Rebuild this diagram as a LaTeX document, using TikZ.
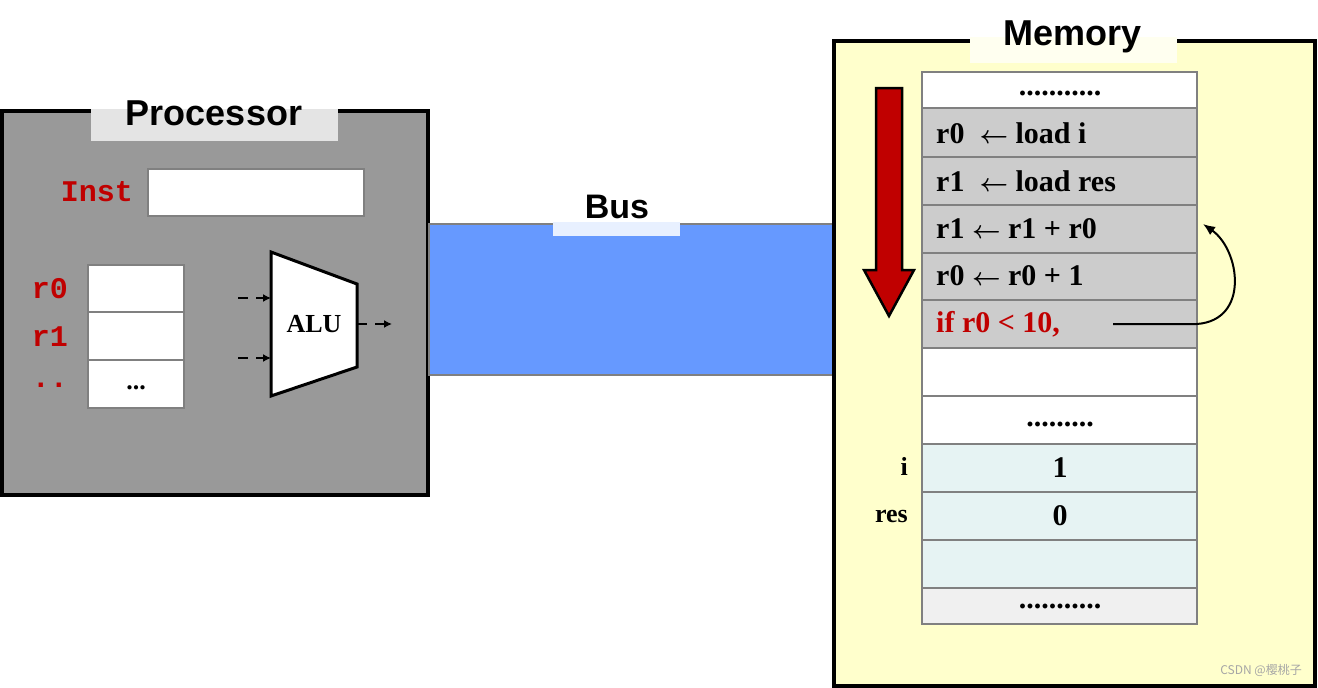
\documentclass[tikz,border=0pt]{standalone}
\usepackage{amsmath}
\usepackage{fontspec}
\setmainfont{Liberation Serif}
\newfontfamily\hvf{Liberation Sans}
\newfontfamily\crf{Liberation Mono}
\newfontfamily\cjkf{Noto Sans CJK SC}
\usetikzlibrary{arrows.meta}
\definecolor{dred}{HTML}{C00000}
\definecolor{pgray}{HTML}{999999}
\definecolor{lgray}{HTML}{E4E4E4}
\definecolor{bus}{HTML}{6699FF}
\definecolor{memy}{HTML}{FFFFCC}
\definecolor{rowg}{HTML}{CCCCCC}
\definecolor{rowb}{HTML}{E6F3F3}
\begin{document}
\begin{tikzpicture}[x=1pt,y=-1pt,
  title/.style={font=\hvf\bfseries\fontsize{36}{36}\selectfont,inner sep=0pt},
  reg/.style={draw=gray,line width=1.5pt,fill=white},
  row/.style={draw=gray,line width=1.5pt},
  mt/.style={font=\bfseries\fontsize{30}{30}\selectfont,inner sep=0pt,anchor=west},
  rl/.style={font=\crf\bfseries\fontsize{30}{30}\selectfont,text=dred,inner sep=0pt},
  arr/.style={-{Latex[length=8pt,width=8pt]},line width=1.5pt}]
\useasboundingbox (0,0) rectangle (1318,688);
% Processor
\draw[fill=pgray,line width=4pt] (2,111) rectangle (428,495);
\fill[lgray] (91,109) rectangle (338,141);
\node[title] (ptitle) at (214,113) {Processor};
\node[rl,anchor=east] (inst) at (133,192) {Inst};
\draw[reg] (148,169) rectangle (364,216);
\draw[reg] (88,265) rectangle (184,312);
\draw[reg] (88,312) rectangle (184,360);
\draw[reg] (88,360) rectangle (184,408);
\node[font=\bfseries\fontsize{26}{26}\selectfont] (dots) at (136,388) {...};
\node[rl] (r0) at (50,289) {r0};
\node[rl] (r1) at (50,337) {r1};
\node[rl] (rd) at (50,385) {..};
\draw[fill=white,line width=3pt] (271,252) -- (357,284) -- (357,367) -- (271,396) -- cycle;
\node[font=\bfseries\fontsize{26}{26}\selectfont,inner sep=0pt] (alu) at (314,324) {ALU};
\coordinate (a1s) at (238,298); \coordinate (a1e) at (271,298);
\coordinate (a2s) at (238,358); \coordinate (a2e) at (271,358);
\coordinate (aos) at (357,324); \coordinate (aoe) at (392,324);
\draw[arr,dash pattern=on 10pt off 8pt] (a1s) -- (a1e);
\draw[arr,dash pattern=on 10pt off 8pt] (a2s) -- (a2e);
\draw[arr,dash pattern=on 10pt off 8pt] (aos) -- (aoe);
% Bus
\draw[fill=bus,draw=gray,line width=2pt] (429,224) rectangle (833,375);
\fill[white!85!bus] (553,222) rectangle (680,236);
\node[title,font=\hvf\bfseries\fontsize{34}{34}\selectfont] (bust) at (617,207) {Bus};
% Memory
\draw[fill=memy,line width=4pt] (834,41) rectangle (1315,686);
\fill[white!70!memy] (970,37) rectangle (1177,63);
\node[title] (mtitle) at (1073,37) {Memory};
\draw[row,fill=white] (922,72) rectangle (1197,108);
\foreach \a/\b in {108/157,157/205,205/253,253/300,300/348} \draw[row,fill=rowg] (922,\a) rectangle (1197,\b);
\foreach \a/\b in {348/396,396/444} \draw[row,fill=white] (922,\a) rectangle (1197,\b);
\foreach \a/\b in {444/492,492/540,540/588} \draw[row,fill=rowb] (922,\a) rectangle (1197,\b);
\draw[row,fill=black!6] (922,588) rectangle (1197,624);
\node[mt,anchor=center] (d1) at (1060,93) {...........};
\node[mt] (m1) at (936,133) {r0\ \ $\boldsymbol{\leftarrow}$ load i};
\node[mt] (m2) at (936,181) {r1\ \ $\boldsymbol{\leftarrow}$ load res};
\node[mt] (m3) at (936,229) {r1 $\boldsymbol{\leftarrow}$ r1 + r0};
\node[mt] (m4) at (936,276) {r0 $\boldsymbol{\leftarrow}$ r0 + 1};
\node[mt,text=dred] (m5) at (936,324) {if r0 < 10,};
\node[mt,anchor=center] (d2) at (1060,424) {.........};
\node[mt,anchor=center] (v1) at (1060,468) {1};
\node[mt,anchor=center] (v2) at (1060,516) {0};
\node[mt,anchor=center] (d3) at (1060,606) {...........};
\node[font=\bfseries\fontsize{26}{26}\selectfont,anchor=east,inner sep=0pt] (li) at (908,466) {i};
\node[font=\bfseries\fontsize{26}{26}\selectfont,anchor=east,inner sep=0pt] (lr) at (908,516) {res};
\coordinate (ls) at (1113,324); \coordinate (lm) at (1197,324); \coordinate (le) at (1203,224);
\draw[-{Latex[length=12pt,width=10pt]},line width=2pt] (ls) -- (lm) .. controls (1250,320) and (1240,250) .. (le);
% red arrow
\draw[fill=dred,line width=2.5pt] (876,88) -- (902,88) -- (902,270) -- (914,270) -- (889,316) -- (864,270) -- (876,270) -- cycle;
\node[font=\cjkf\fontsize{12}{12}\selectfont,text=gray!70,anchor=east,inner sep=0pt] (wm) at (1302,670) {CSDN @樱桃子};
\end{tikzpicture}
\end{document}
